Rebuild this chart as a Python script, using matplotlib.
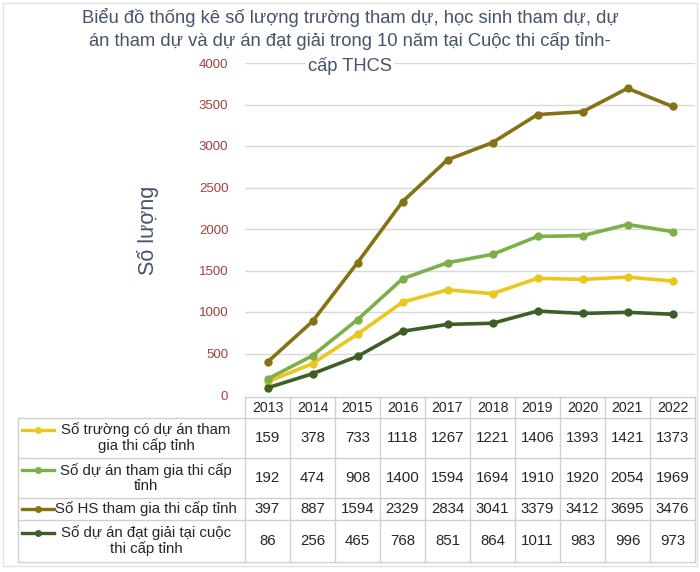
import matplotlib.pyplot as plt

plt.rcParams['font.family'] = ['Liberation Sans', 'DejaVu Sans']

years = ['2013', '2014', '2015', '2016', '2017', '2018', '2019', '2020', '2021', '2022']
so_truong = [159, 378, 733, 1118, 1267, 1221, 1406, 1393, 1421, 1373]
so_du_an = [192, 474, 908, 1400, 1594, 1694, 1910, 1920, 2054, 1969]
so_hoc_sinh = [397, 887, 1594, 2329, 2834, 3041, 3379, 3412, 3695, 3476]
so_dat_giai = [86, 256, 465, 768, 851, 864, 1011, 983, 996, 973]

series_labels = [
    'Số trường có dự án tham\ngia thi cấp tỉnh',
    'Số dự án tham gia thi cấp\ntỉnh',
    'Số HS tham gia thi cấp tỉnh',
    'Số dự án đạt giải tại cuộc\nthi cấp tỉnh',
]
series_values = [so_truong, so_du_an, so_hoc_sinh, so_dat_giai]
series_colors = ['#EBC61E', '#7CAF4A', '#857214', '#3D5E27']

W, H = 700, 572
fig = plt.figure(figsize=(7, 5.72), dpi=100)

# plot area (pixel layout of the original)
left, right, top, bottom = 245, 695, 63, 395
ax = fig.add_axes([left / W, 1 - bottom / H, (right - left) / W, (bottom - top) / H])
x = list(range(len(years)))
for vals, col in zip(series_values, series_colors):
    ax.plot(x, vals, color=col, lw=2.6, marker='o', ms=5, zorder=3)

ax.set_xlim(-0.5, len(years) - 0.5)
ax.set_ylim(0, 4000)
ax.set_yticks(range(0, 4001, 500))
ax.set_xticks([])
ax.tick_params(axis='y', length=0, pad=12, labelsize=9.5, labelcolor='#A3403D')
ax.grid(axis='y', color='#D9D9D9', lw=1)
ax.set_axisbelow(True)
for s in ax.spines.values():
    s.set_visible(False)

fig.text(148 / W, 1 - 230 / H, 'Số lượng', rotation=90, ha='center', va='center',
         fontsize=15.5, color='#44546A')

# title
title_color = '#44546A'
fig.text(0.5, 1 - 8 / H,
         'Biểu đồ thống kê số lượng trường tham dự, học sinh tham dự, dự\n'
         'án tham dự và dự án đạt giải trong 10 năm tại Cuộc thi cấp tỉnh-',
         ha='center', va='top', fontsize=13.2, color=title_color, linespacing=1.38)
fig.text(0.5, 1 - 66 / H, 'cấp THCS', ha='center', va='center', fontsize=13.2,
         color=title_color, bbox=dict(facecolor='white', edgecolor='none', pad=1.5))

# data table drawn underneath
tab = fig.add_axes([0, 0, 1, 1], zorder=-1)
tab.set_xlim(0, W)
tab.set_ylim(H, 0)
tab.axis('off')

grid_c = '#CFCFCF'
col_w = (right - left) / len(years)
label_left = 18
row_edges = [397, 418, 458, 498, 520, 562]

# horizontal lines
tab.plot([left, right], [row_edges[0]] * 2, color=grid_c, lw=1)
for ye in row_edges[1:]:
    tab.plot([label_left, right], [ye, ye], color=grid_c, lw=1)
# vertical lines
tab.plot([label_left, label_left], [row_edges[1], row_edges[-1]], color=grid_c, lw=1)
for i in range(len(years) + 1):
    xe = left + i * col_w
    tab.plot([xe, xe], [row_edges[0], row_edges[-1]], color=grid_c, lw=1)

# header
for i, yr in enumerate(years):
    tab.text(left + (i + 0.5) * col_w, (row_edges[0] + row_edges[1]) / 2, yr,
             ha='center', va='center', fontsize=10.2, color='#262626')

# rows
for r, (lab, vals, col) in enumerate(zip(series_labels, series_values, series_colors)):
    yc = (row_edges[r + 1] + row_edges[r + 2]) / 2
    my = yc - (8 if '\n' in lab else 0)
    tab.plot([22, 54], [my, my], color=col, lw=2.4)
    tab.plot([38], [my], marker='o', ms=4, color=col)
    tab.text(146, yc, lab, ha='center', va='center', fontsize=10.8, color='#262626',
             multialignment='center', linespacing=1.1)
    for i, v in enumerate(vals):
        tab.text(left + (i + 0.5) * col_w, yc, str(v), ha='center', va='center',
                 fontsize=10.8, color='#262626')

# faint outer frame
tab.plot([3, 697, 697, 3, 3], [3, 3, 566, 566, 3], color='#E3E3E3', lw=1)

fig.savefig('out.png', dpi=100)
